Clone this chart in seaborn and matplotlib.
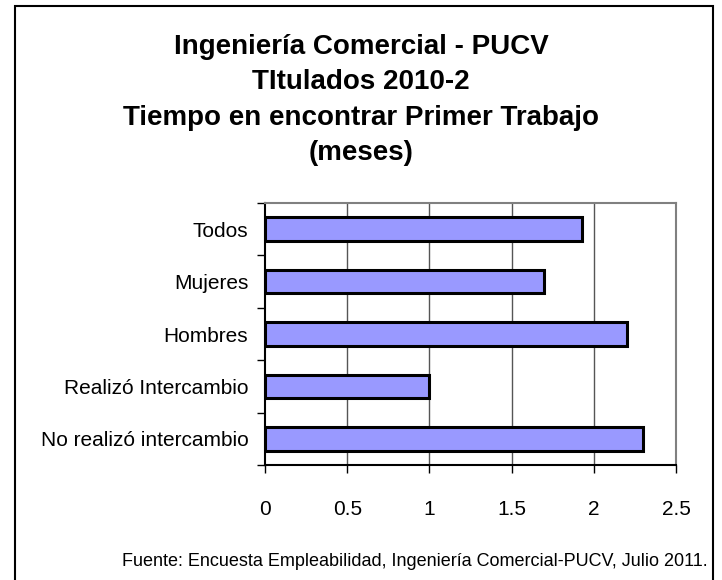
import matplotlib
matplotlib.use("Agg")
import matplotlib.pyplot as plt
import seaborn as sns
from matplotlib.patches import Rectangle

# data
categories = ["Todos", "Mujeres", "Hombres", "Realizó Intercambio", "No realizó intercambio"]
months = [1.93, 1.70, 2.20, 1.00, 2.30]
xticks = [0, 0.5, 1, 1.5, 2, 2.5]
xticklabels = ["0", "0.5", "1", "1.5", "2", "2.5"]
title_lines = ["Ingeniería Comercial - PUCV", "TItulados 2010-2",
               "Tiempo en encontrar Primer Trabajo", "(meses)"]
source = "Fuente: Encuesta Empleabilidad, Ingeniería Comercial-PUCV, Julio 2011."

sns.set_style("white")
plt.rcParams["font.family"] = ["Liberation Sans", "DejaVu Sans"]
plt.rcParams["text.color"] = "black"
plt.rcParams["xtick.color"] = "black"
plt.rcParams["ytick.color"] = "black"

fig = plt.figure(figsize=(7.22, 5.80), dpi=100)
ax = fig.add_axes([265 / 722, 1 - 465 / 580, (676 - 265) / 722, (465 - 203) / 580])

sns.barplot(x=months, y=categories, orient="h", color="#9999FF", saturation=1,
            edgecolor="black", linewidth=2.2, width=0.45, ax=ax, zorder=3)

ax.set_xlim(0, 2.5)
ax.set_ylim(4.5, -0.5)
ax.set_xticks(xticks)
ax.set_xticklabels(xticklabels, fontsize=15)
ax.set_yticks(range(len(categories)))
ax.set_yticklabels(categories, fontsize=15)
ax.set_yticks([i - 0.5 for i in range(len(categories) + 1)], minor=True)
ax.tick_params(axis="y", which="major", length=0, pad=12)
ax.tick_params(axis="y", which="minor", length=6, width=1, color="black", direction="out", left=True)
ax.tick_params(axis="x", length=6, width=1, color="black", direction="out", bottom=True, pad=19)
ax.set_xlabel("")
ax.set_ylabel("")

for x in xticks[1:-1]:
    ax.axvline(x, color="#555555", lw=1, zorder=1)

for side in ["left", "bottom"]:
    ax.spines[side].set_color("black")
    ax.spines[side].set_linewidth(1.5)
for side in ["top", "right"]:
    ax.spines[side].set_color("#808080")
    ax.spines[side].set_linewidth(1.5)

fig.text(361 / 722, 1 - 34 / 580, "\n".join(title_lines), ha="center", va="top",
         fontsize=20, fontweight="bold", linespacing=1.47)
fig.text(708 / 722, 1 - 561 / 580, source, ha="right", va="center", fontsize=13)

fig.patches.append(Rectangle((15 / 722, -0.05), (713 - 15) / 722, 1 - 6 / 580 + 0.05,
                             transform=fig.transFigure, fill=False, edgecolor="black", lw=1.5))

fig.savefig("out.png", dpi=100)
